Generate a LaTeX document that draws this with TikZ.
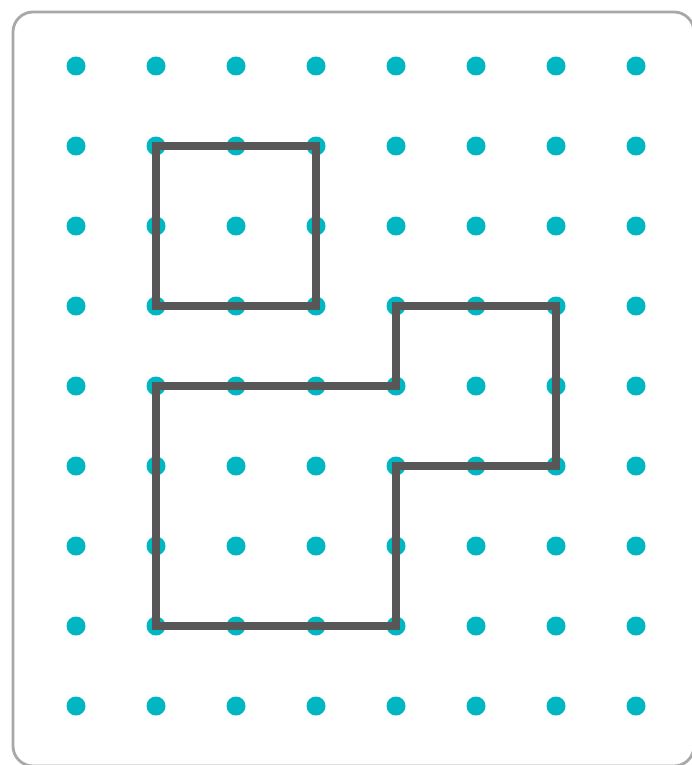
\documentclass[tikz,border=0pt]{standalone}
\definecolor{dotc}{HTML}{00B6C2}
\definecolor{linec}{HTML}{575757}
\definecolor{framec}{HTML}{A8A8A8}
\begin{document}
\begin{tikzpicture}[x=1pt,y=-1pt,
  dotstyle/.style={fill=dotc},
  shapeline/.style={draw=linec,line width=8.5pt,line join=miter},
  frame/.style={draw=framec,line width=2.8pt,rounded corners=20pt}]
\useasboundingbox (0,0) rectangle (692,765);
\begin{scope}
\clip (0,0) rectangle (692,765);
\draw[frame] (13,12) rectangle (694,766);
\end{scope}
\foreach \i in {0,...,7}{
  \foreach \j in {0,...,8}{
    \fill[dotstyle] (76+80*\i,66+80*\j) circle (9.5);
  }
}
\coordinate (s1) at (156,146);
\coordinate (s2) at (316,146);
\coordinate (s3) at (316,306);
\coordinate (s4) at (156,306);
\draw[shapeline] (s1) -- (s2) -- (s3) -- (s4) -- cycle;
\coordinate (p1) at (156,386);
\coordinate (p2) at (396,386);
\coordinate (p3) at (396,306);
\coordinate (p4) at (556,306);
\coordinate (p5) at (556,466);
\coordinate (p6) at (396,466);
\coordinate (p7) at (396,626);
\coordinate (p8) at (156,626);
\draw[shapeline] (p1) -- (p2) -- (p3) -- (p4) -- (p5) -- (p6) -- (p7) -- (p8) -- cycle;
\end{tikzpicture}
\end{document}
